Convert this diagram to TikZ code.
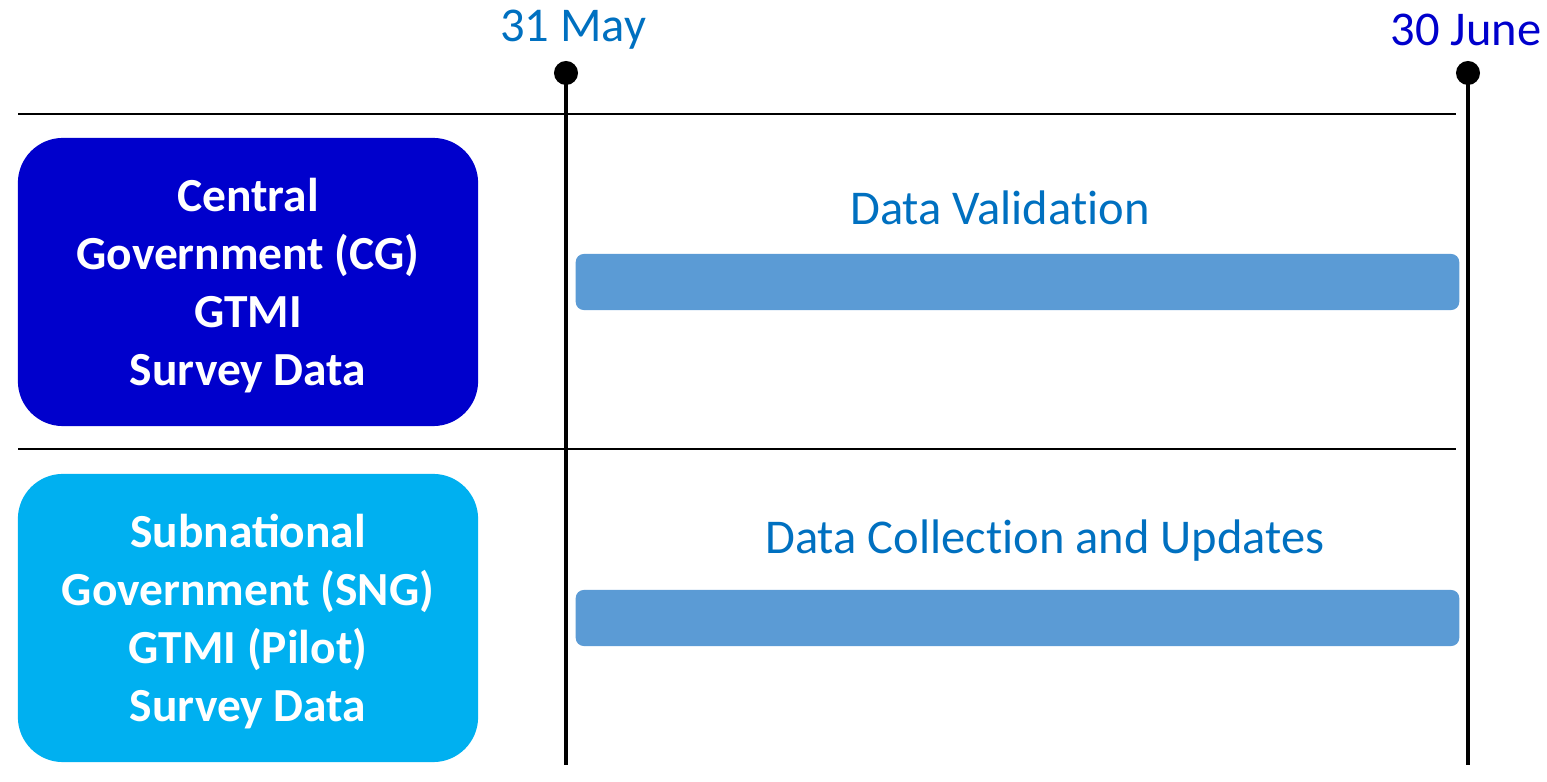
\documentclass[tikz,border=0pt]{standalone}
\usepackage{fontspec}
\setmainfont{Carlito}
\definecolor{cgblue}{RGB}{0,0,204}
\definecolor{sngblue}{RGB}{0,176,240}
\definecolor{barblue}{RGB}{91,155,213}
\definecolor{labelblue}{RGB}{0,112,192}
\tikzset{
  govbox/.style={rounded corners=0.45cm, minimum width=4.6cm, minimum height=2.88cm},
  govtext/.style={text=white, align=center, font=\fontsize{13.5}{16.5}\selectfont\bfseries},
  taskbar/.style={fill=barblue, rounded corners=0.08cm, minimum width=8.83cm, minimum height=0.56cm},
  tasklabel/.style={text=labelblue, font=\fontsize{13.8}{17}\selectfont},
  datelabel/.style={font=\fontsize{13.8}{17}\selectfont},
  milestone/.style={line width=0.9pt},
  divider/.style={line width=0.45pt},
}
\begin{document}
\begin{tikzpicture}[x=0.01cm, y=-0.01cm, every node/.style={inner sep=0pt}]
\useasboundingbox (0,0) rectangle (1547,782);
% Milestones
\node[datelabel, text=labelblue] (may) at (573,30) {31 May};
\node[datelabel, text=cgblue] (june) at (1466,30) {30 June};
\coordinate (maytop) at (566,73);
\coordinate (maybot) at (566,765);
\coordinate (junetop) at (1468,73);
\coordinate (junebot) at (1468,765);
\draw[milestone] (maytop) -- (maybot);
\draw[milestone] (junetop) -- (junebot);
\fill (maytop) circle (0.12cm);
\fill (junetop) circle (0.12cm);
% Row dividers
\coordinate (ruleAl) at (18,114);
\coordinate (ruleAr) at (1456,114);
\coordinate (ruleBl) at (18,449);
\coordinate (ruleBr) at (1456,449);
\draw[divider] (ruleAl) -- (ruleAr);
\draw[divider] (ruleBl) -- (ruleBr);
% Central government row
\node[govbox, fill=cgblue] (cg) at (248,282) {};
\node[govtext] (cgtext) at (248,286) {Central\\Government (CG)\\GTMI\\Survey Data};
\node[tasklabel] (valid) at (1000,208) {Data Validat\kern0pt ion};
\node[taskbar] (validbar) at (1017.5,282) {};
% Subnational government row
\node[govbox, fill=sngblue] (sng) at (248,618) {};
\node[govtext] (sngtext) at (248,622) {Subnational\\Government (SNG)\\GTMI (Pilot)\\Survey Data};
\node[tasklabel] (collect) at (1045,541) {Data Collect\kern0pt ion and Updates};
\node[taskbar] (collectbar) at (1017.5,618) {};
\end{tikzpicture}
\end{document}
